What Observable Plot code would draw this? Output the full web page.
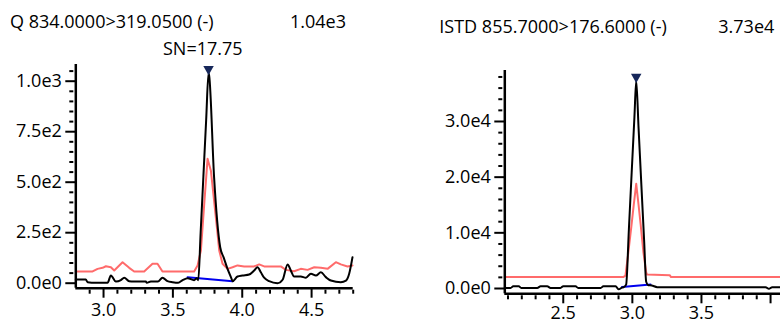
<!DOCTYPE html>
<html>
<head>
<meta charset="utf-8">
<script src="https://cdn.jsdelivr.net/npm/d3@7"></script>
<script src="https://cdn.jsdelivr.net/npm/@observablehq/plot@0.6"></script>
<style>
  html, body { margin: 0; padding: 0; background: #fff; }
  #chart { position: relative; width: 780px; height: 324px; overflow: hidden; font-family: "Open Sans", sans-serif; color: #000; }
  #chart svg { position: absolute; top: 0; }
  .t { position: absolute; font-size: 18px; line-height: 18px; white-space: nowrap; }
</style>
</head>
<body>
<div id="chart"></div>
<script>
// ---- Quantifier transition Q 834.0000>319.0500 (-) ----
const qTitle = "Q 834.0000>319.0500 (-)";
const qSN = "SN=17.75";
const qTime = [2.800, 2.872, 2.885, 2.944, 3.029, 3.053, 3.089, 3.125, 3.149, 3.185, 3.218, 3.305, 3.312, 3.341, 3.392, 3.425, 3.461, 3.497, 3.538, 3.570, 3.606, 3.653, 3.673, 3.683, 3.700, 3.720, 3.740, 3.757, 3.762, 3.797, 3.841, 3.865, 3.894, 3.923, 3.930, 3.966, 4.002, 4.050, 4.086, 4.110, 4.134, 4.158, 4.194, 4.254, 4.291, 4.327, 4.350, 4.374, 4.422, 4.459, 4.495, 4.531, 4.567, 4.603, 4.639, 4.711, 4.748, 4.771, 4.795];
const qSignal = [18, 18, 5, 2, 2, 38, 8, 15, 27, 10, 8, 8, 2, 8, 8, 27, 10, 5, 2, 15, 25, 15, 25, 15, 250, 530, 810, 1040, 1025, 525, 178, 129, 71, 22, 10, 33, 38, 43, 63, 79, 54, 27, 10, 0, 17, 93, 63, 33, 33, 27, 47, 38, 54, 30, 13, 5, 13, 47, 129];
const qRefTime = [2.800, 2.921, 2.957, 2.993, 3.017, 3.053, 3.077, 3.137, 3.185, 3.221, 3.293, 3.353, 3.389, 3.425, 3.653, 3.678, 3.702, 3.726, 3.750, 3.774, 3.797, 3.817, 3.834, 3.858, 3.894, 3.930, 3.966, 4.014, 4.086, 4.122, 4.158, 4.278, 4.315, 4.374, 4.422, 4.471, 4.519, 4.567, 4.615, 4.675, 4.711, 4.759, 4.795];
const qRefSignal = [58, 58, 71, 76, 84, 79, 63, 104, 76, 58, 58, 96, 96, 58, 58, 88, 162, 393, 616, 557, 409, 277, 162, 96, 71, 79, 88, 83, 83, 93, 83, 83, 66, 59, 71, 66, 79, 76, 71, 104, 93, 83, 88];
const qBaseTime = [3.606, 3.930];
const qBaseSignal = [30, 10];
const qApexTime = 3.757;
const qApexSignal = 1040;
const qXDomain = [2.80, 4.80];
const qYDomain = [-24.75, 1082.7];
const qXTicks = [3.0, 3.5, 4.0, 4.5];
const qXMinor = [2.9, 3.1, 3.2, 3.3, 3.4, 3.6, 3.7, 3.8, 3.9, 4.1, 4.2, 4.3, 4.4, 4.6, 4.7, 4.8];
const qYTicks = [0, 250, 500, 750, 1000];
const qYMinor = [50, 100, 150, 200, 300, 350, 400, 450, 550, 600, 650, 700, 800, 850, 900, 950, 1050];

// ---- Internal standard ISTD 855.7000>176.6000 (-) ----
const iTitle = "ISTD 855.7000>176.6000 (-)";
const iTime = [2.077, 2.119, 2.138, 2.178, 2.196, 2.312, 2.336, 2.384, 2.408, 2.480, 2.500, 2.589, 2.608, 2.771, 2.790, 2.879, 2.900, 2.925, 2.934, 2.955, 2.975, 2.995, 3.015, 3.028, 3.045, 3.065, 3.085, 3.100, 3.115, 3.140, 3.180, 3.964, 3.988, 4.012, 4.072];
const iSignal = [100, 100, 400, 400, 100, 100, 400, 400, 100, 100, 400, 400, 100, 100, 400, 400, -150, 150, 200, 700, 10700, 20800, 30800, 37300, 28800, 18700, 8700, 1200, 600, 540, 240, 240, -60, 240, 240];
const iRefTime = [2.077, 2.934, 2.950, 2.970, 2.992, 3.010, 3.028, 3.045, 3.060, 3.080, 3.100, 3.106, 3.270, 3.280, 4.072];
const iRefSignal = [2050, 2050, 2300, 6300, 11000, 15000, 18800, 15000, 11500, 6500, 2900, 2500, 2400, 2050, 2050];
const iBaseTime = [2.925, 3.132];
const iBaseSignal = [250, 720];
const iApexTime = 3.028;
const iApexSignal = 37300;
const iXDomain = [2.077, 4.072];
const iYDomain = [-952, 39160];
const iXTicks = [2.5, 3.0, 3.5, 4.0];
const iXLabelled = [2.5, 3.0, 3.5];
const iXMinor = [2.1, 2.2, 2.3, 2.4, 2.6, 2.7, 2.8, 2.9, 3.1, 3.2, 3.3, 3.4, 3.6, 3.7, 3.8, 3.9];
const iYTicks = [0, 10000, 20000, 30000];
const iYMinor = [2000, 4000, 6000, 8000, 12000, 14000, 16000, 18000, 22000, 24000, 26000, 28000, 32000, 34000, 36000, 38000];

const TRACE = "#000000";
const REF = "#ff6b6b";
const BASE = "#0000ee";
const APEX = "#16275a";

const pairs = (xs, ys) => xs.map((t, i) => ({t, v: ys[i]}));
const expFmt = d => d.toExponential(1).replace("e+", "e");
const expFmt2 = d => d.toExponential(2).replace("e+", "e");
const blank = () => "";

function chromatogram({width, margins, xDomain, yDomain, xTicks, xLabelled, xMinor, yTicks, yMinor,
                       labelPad, trace, ref, base, apex}) {
  return Plot.plot({
    width, height: 324,
    marginLeft: margins[0], marginRight: margins[1], marginTop: margins[2], marginBottom: margins[3],
    style: {fontFamily: "'Open Sans', sans-serif", fontSize: "18px", background: "transparent", overflow: "visible"},
    x: {domain: xDomain, label: null},
    y: {domain: yDomain, label: null},
    marks: [
      Plot.axisY({ticks: yTicks, tickSize: 10, tickPadding: 4, strokeWidth: 2, tickFormat: expFmt, fontSize: 18}),
      Plot.axisY({ticks: yMinor, tickSize: 4, strokeWidth: 2, tickFormat: blank, dx: -2}),
      Plot.axisX({ticks: xTicks, tickSize: 10, strokeWidth: 2, tickFormat: blank}),
      Plot.axisX({ticks: xLabelled, tickSize: 10, tickPadding: labelPad, strokeOpacity: 0, tickFormat: d => d.toFixed(1), fontSize: 18}),
      Plot.axisX({ticks: xMinor, tickSize: 4, strokeWidth: 2, tickFormat: blank, dy: 2}),
      Plot.line(ref, {x: "t", y: "v", stroke: REF, strokeWidth: 2}),
      Plot.line(base, {x: "t", y: "v", stroke: BASE, strokeWidth: 2}),
      Plot.line(trace, {x: "t", y: "v", stroke: TRACE, strokeWidth: 2, curve: "monotone-x"}),
      Plot.ruleX([xDomain[0]], {stroke: "#000", strokeWidth: 2.5}),
      Plot.ruleY([yDomain[0]], {stroke: "#000", strokeWidth: 2.5}),
      Plot.dot(apex, {x: "t", y: "v", symbol: "triangle", r: 3.9, rotate: 180, fill: APEX, stroke: "none", dy: -4})
    ]
  });
}

const chart = document.getElementById("chart");

const left = chromatogram({
  width: 390, margins: [75.3, 37.3, 64, 36.3],
  xDomain: qXDomain, yDomain: qYDomain,
  xTicks: qXTicks, xLabelled: qXTicks, xMinor: qXMinor, yTicks: qYTicks, yMinor: qYMinor, labelPad: 5,
  trace: pairs(qTime, qSignal), ref: pairs(qRefTime, qRefSignal), base: pairs(qBaseTime, qBaseSignal),
  apex: [{t: qApexTime, v: qApexSignal}]
});
left.style.left = "0px";
chart.appendChild(left);

const right = chromatogram({
  width: 390, margins: [114.3, 0, 70, 30.7],
  xDomain: iXDomain, yDomain: iYDomain,
  xTicks: iXTicks, xLabelled: iXLabelled, xMinor: iXMinor, yTicks: iYTicks, yMinor: iYMinor, labelPad: 2,
  trace: pairs(iTime, iSignal), ref: pairs(iRefTime, iRefSignal), base: pairs(iBaseTime, iBaseSignal),
  apex: [{t: iApexTime, v: iApexSignal}]
});
right.style.left = "390px";
chart.appendChild(right);

// Header texts: transition name, apex intensity, signal-to-noise
function label(text, x, baseline) {
  const el = document.createElement("div");
  el.className = "t";
  el.textContent = text;
  el.style.left = x + "px";
  el.style.top = (baseline - 16) + "px";
  chart.appendChild(el);
}
label(qTitle, 10, 27.7);
label(expFmt2(qApexSignal), 290, 27.7);
label(qSN, 163, 55);
label(iTitle, 439.3, 33.3);
label(expFmt2(iApexSignal), 718.3, 33.3);
</script>
</body>
</html>
